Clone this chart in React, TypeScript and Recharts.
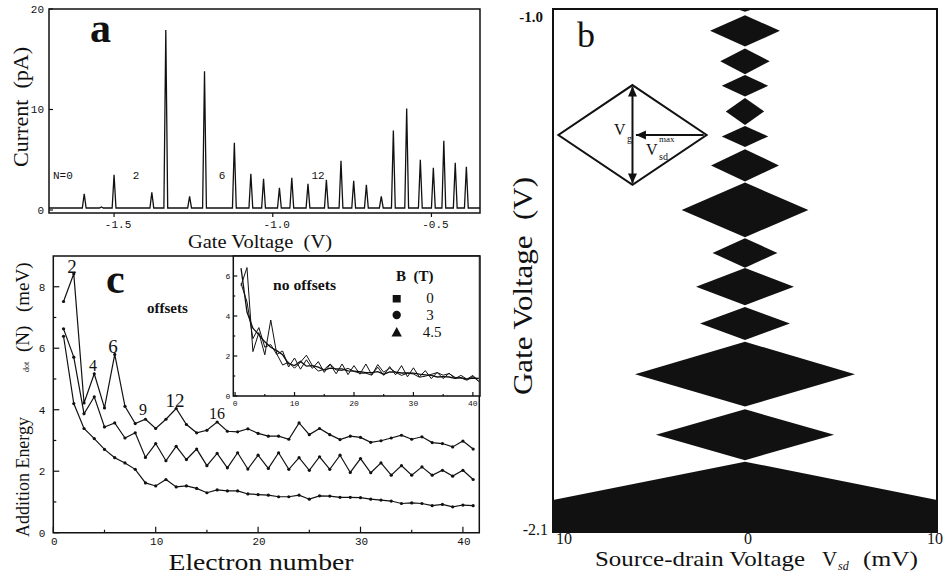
import React from 'react';
import { LineChart, Line, XAxis, YAxis, ReferenceArea, ReferenceLine } from 'recharts';

const SERIF = '"Liberation Serif", "Times New Roman", serif';
const MONO = '"Liberation Mono", "DejaVu Sans Mono", monospace';
const INK = '#111';
const FW = 951;
const FH = 580;

// ---------------- panel a : current vs gate voltage ----------------
const GATE_RANGE_A = [-1.705, -0.347];
const CURRENT_RANGE_A = [-0.3, 20];
const PEAK_GATE = [-1.594, -1.54, -1.5, -1.381, -1.337, -1.262, -1.215, -1.121, -1.069, -1.029, -0.979, -0.94, -0.889, -0.831, -0.785, -0.745, -0.705, -0.658, -0.62, -0.578, -0.535, -0.494, -0.461, -0.425, -0.39];
const PEAK_CURRENT = [1.6, 0.3, 3.5, 1.75, 17.9, 1.35, 13.8, 6.7, 3.6, 3.1, 2.2, 3.2, 2.6, 3.0, 4.9, 2.9, 2.5, 1.35, 7.9, 10.1, 5.0, 4.2, 6.9, 4.7, 4.3];
const BASELINE_CURRENT = 0.2;
const A_X_TICKS = [-1.5, -1.0, -0.5];
const A_Y_TICKS = [0, 10, 20];

// ---------------- panel b : Coulomb diamonds ----------------
const VSD_RANGE = [-10, 10];
const VG_RANGE = [-2.1, -1.0];
const DIAMOND_TOP = [-0.97, -1.013, -1.083, -1.139, -1.187, -1.246, -1.295, -1.365, -1.482, -1.545, -1.627, -1.7, -1.842, -1.952];
const DIAMOND_BOTTOM = [-1.006, -1.079, -1.137, -1.184, -1.244, -1.29, -1.363, -1.48, -1.544, -1.623, -1.696, -1.836, -1.949, -2.6];
const DIAMOND_HALF_WIDTH = [1.3, 1.82, 1.29, 1.21, 1.0, 1.21, 1.77, 3.3, 1.69, 2.55, 2.34, 5.73, 4.64, 40.2];
const B_X_TICKS = [-10, 0, 10];
const B_Y_TICKS = [-2.1, -1.0];
// schematic diamond (inset of panel b), in axis units
const SCHEMATIC = { vsd: -5.86, half: 3.86, top: -1.16, bottom: -1.37, mid: -1.265 };

// ---------------- panel c : addition energy ----------------
const ELECTRON_N = [1, 2, 3, 4, 5, 6, 7, 8, 9, 10, 11, 12, 13, 14, 15, 16, 17, 18, 19, 20, 21, 22, 23, 24, 25, 26, 27, 28, 29, 30, 31, 32, 33, 34, 35, 36, 37, 38, 39, 40, 41];
const E_B0 = [5.52, 6.42, 2.22, 3.17, 2.06, 3.8, 2.11, 1.55, 1.69, 1.39, 1.69, 2.04, 1.52, 1.25, 1.33, 1.6, 1.3, 1.28, 1.38, 1.23, 1.14, 1.14, 1.04, 1.57, 1.19, 1.39, 1.19, 1.03, 1.14, 1.1, 0.94, 0.99, 1.08, 1.17, 1.04, 1.12, 0.93, 0.9, 0.79, 0.98, 0.72];
const E_B3 = [5.63, 4.71, 2.87, 3.42, 2.44, 2.57, 2.08, 2.25, 1.45, 1.9, 1.34, 1.81, 1.38, 1.72, 1.18, 1.58, 1.11, 1.6, 1.07, 1.52, 1.09, 1.6, 1.06, 1.44, 1.03, 1.47, 1.06, 1.52, 0.96, 1.41, 0.95, 1.27, 0.87, 1.18, 0.87, 1.14, 0.87, 1.03, 0.84, 1.03, 0.73];
const E_B45 = [6.39, 4.2, 3.39, 3.06, 2.71, 2.44, 2.27, 2.06, 1.62, 1.52, 1.73, 1.49, 1.52, 1.44, 1.3, 1.39, 1.36, 1.36, 1.26, 1.24, 1.22, 1.17, 1.17, 1.22, 1.09, 1.2, 1.19, 1.15, 1.15, 1.14, 1.09, 1.06, 1.03, 0.95, 0.97, 0.95, 0.88, 0.92, 0.84, 0.9, 0.88];
const B_FIELDS = ['0', '3', '4.5'];
const OFFSETS_MEV = [2, 1, 0];
const C_X_RANGE = [0, 41.6];
const C_Y_RANGE = [0, 9];
const C_X_TICKS = [0, 5, 10, 15, 20, 25, 30, 35, 40];
const C_Y_TICKS = [0, 1, 2, 3, 4, 5, 6, 7, 8];
const INSET_X_RANGE = [-0.3, 41.2];
const INSET_Y_RANGE = [0, 7];
const INSET_X_TICKS = [0, 5, 10, 15, 20, 25, 30, 35, 40];
const INSET_Y_TICKS = [0, 1, 2, 3, 4, 5, 6];
const PEAK_LABELS_C = ['2', '4', '6', '9', '12', '16'];

// ---------- derived tables ----------
const PEAK_HALF_WIDTH = 0.006;
const traceA: { v: number; i: number }[] = [{ v: GATE_RANGE_A[0], i: BASELINE_CURRENT }];
PEAK_GATE.forEach((v, k) => {
  traceA.push({ v: v - PEAK_HALF_WIDTH, i: BASELINE_CURRENT }, { v, i: PEAK_CURRENT[k] }, { v: v + PEAK_HALF_WIDTH, i: BASELINE_CURRENT });
});
traceA.push({ v: GATE_RANGE_A[1], i: BASELINE_CURRENT });

const offsetRows = ELECTRON_N.map((n, k) => ({
  n,
  b0: E_B0[k] + OFFSETS_MEV[0],
  b3: E_B3[k] + OFFSETS_MEV[1],
  b45: E_B45[k] + OFFSETS_MEV[2],
}));
const rawRows = ELECTRON_N.map((n, k) => ({ n, b0: E_B0[k], b3: E_B3[k], b45: E_B45[k] }));

const diamonds = DIAMOND_TOP.map((top, k) => ({ top, bottom: DIAMOND_BOTTOM[k], half: DIAMOND_HALF_WIDTH[k] }));

// ---------- tick renderers ----------
type TickOpt = {
  fmt: (v: number) => string;
  isMajor: (v: number) => boolean;
  major: number;
  minor: number;
  dir: number;
  font: string;
  size: number;
  dx: number;
  dy: number;
  weight?: string;
};

const xTick = (o: TickOpt) => (p: any) => {
  const v = p.payload.value;
  const maj = o.isMajor(v);
  const len = maj ? o.major : o.minor;
  return (
    <g>
      {len > 0 && <line x1={p.x} x2={p.x} y1={p.y} y2={p.y + o.dir * len} stroke={INK} strokeWidth={1.2} />}
      {maj && (
        <text x={p.x + o.dx} y={p.y + o.dy} textAnchor="middle" fontFamily={o.font} fontSize={o.size} fontWeight={o.weight || 'normal'} fill={INK}>
          {o.fmt(v)}
        </text>
      )}
    </g>
  );
};

const yTick = (o: TickOpt) => (p: any) => {
  const v = p.payload.value;
  const maj = o.isMajor(v);
  const len = maj ? o.major : o.minor;
  return (
    <g>
      {len > 0 && <line x1={p.x} x2={p.x + o.dir * len} y1={p.y} y2={p.y} stroke={INK} strokeWidth={1.2} />}
      {maj && (
        <text x={p.x + o.dx} y={p.y + o.dy} textAnchor="end" fontFamily={o.font} fontSize={o.size} fontWeight={o.weight || 'normal'} fill={INK}>
          {o.fmt(v)}
        </text>
      )}
    </g>
  );
};

const DiamondShape = (p: any) => {
  const { x, y, width, height } = p;
  const cx = x + width / 2;
  const cy = y + height / 2;
  return (
    <polygon
      points={`${cx},${y} ${x + width},${cy} ${cx},${y + height} ${x},${cy}`}
      fill={p.fill}
      stroke={p.stroke}
      strokeWidth={p.strokeWidth}
      strokeLinejoin="miter"
      clipPath={p.clipPath}
    />
  );
};

const arrowShape = (both: boolean) => (p: any) => {
  const { x1, y1, x2, y2 } = p;
  const a = Math.atan2(y2 - y1, x2 - x1);
  const head = (tx: number, ty: number, ang: number) => {
    const L = 10;
    const w = 4.5;
    const bx = tx - L * Math.cos(ang);
    const by = ty - L * Math.sin(ang);
    const nx = -Math.sin(ang) * w;
    const ny = Math.cos(ang) * w;
    return <polygon points={`${tx},${ty} ${bx + nx},${by + ny} ${bx - nx},${by - ny}`} fill={INK} />;
  };
  return (
    <g>
      <line x1={x1} y1={y1} x2={x2} y2={y2} stroke={INK} strokeWidth={2} />
      {head(x2, y2, a)}
      {both && head(x1, y1, a + Math.PI)}
    </g>
  );
};

const axisCommon = {
  interval: 0 as const,
  tickSize: 0,
  tickMargin: 0,
  tickLine: false,
  axisLine: false,
  allowDataOverflow: true,
};

const layer: React.CSSProperties = { position: 'absolute', left: 0, top: 0 };

function PanelA() {
  return (
    <LineChart width={FW} height={FH} data={traceA} margin={{ top: 9, left: 48, right: 471, bottom: 366 }}>
      <XAxis
        dataKey="v"
        type="number"
        domain={GATE_RANGE_A}
        ticks={A_X_TICKS}
        height={1}
        {...axisCommon}
        tick={xTick({ fmt: (v) => v.toFixed(1), isMajor: () => true, major: 4, minor: 0, dir: 1, font: MONO, size: 11, dx: 4, dy: 14.5 })}
      />
      <YAxis
        type="number"
        domain={CURRENT_RANGE_A}
        ticks={A_Y_TICKS}
        width={1}
        {...axisCommon}
        tick={yTick({ fmt: (v) => String(v), isMajor: () => true, major: 4, minor: 0, dir: 1, font: MONO, size: 11, dx: -5, dy: 4 })}
      />
      <ReferenceArea x1={GATE_RANGE_A[0]} x2={GATE_RANGE_A[1]} y1={CURRENT_RANGE_A[0]} y2={CURRENT_RANGE_A[1]} fill="none" stroke={INK} strokeWidth={1.5} ifOverflow="visible" />
      <Line dataKey="i" type="linear" stroke={INK} strokeWidth={1.3} dot={false} isAnimationActive={false} />
    </LineChart>
  );
}

function PanelB() {
  return (
    <LineChart width={FW} height={FH} data={[]} margin={{ top: 9, left: 552, right: 14, bottom: 47 }}>
      <XAxis
        dataKey="vsd"
        type="number"
        domain={VSD_RANGE}
        ticks={B_X_TICKS}
        height={1}
        {...axisCommon}
        tick={(p: any) => {
          const v = p.payload.value;
          const dx = v < 0 ? 11 : v > 0 ? -2 : 3;
          return (
            <text x={p.x + dx} y={p.y + 12} textAnchor="middle" fontFamily={SERIF} fontSize={16} fill={INK}>
              {String(Math.abs(v))}
            </text>
          );
        }}
      />
      <YAxis
        type="number"
        domain={VG_RANGE}
        ticks={B_Y_TICKS}
        width={1}
        {...axisCommon}
        tick={(p: any) => {
          const v = p.payload.value;
          const top = v > -1.5;
          return (
            <text x={p.x + (top ? -10 : -5)} y={p.y + (top ? 13 : 3)} textAnchor="end" fontFamily={SERIF} fontSize={top ? 15 : 16} fontWeight={top ? 'bold' : 'normal'} fill={INK}>
              {v.toFixed(1)}
            </text>
          );
        }}
      />
      {diamonds.map((d, k) => (
        <ReferenceArea key={k} x1={-d.half} x2={d.half} y1={d.bottom} y2={d.top} fill={INK} stroke="none" shape={DiamondShape} ifOverflow="hidden" />
      ))}
      <ReferenceArea
        x1={SCHEMATIC.vsd - SCHEMATIC.half}
        x2={SCHEMATIC.vsd + SCHEMATIC.half}
        y1={SCHEMATIC.bottom}
        y2={SCHEMATIC.top}
        fill="none"
        stroke={INK}
        strokeWidth={2}
        shape={DiamondShape}
        ifOverflow="visible"
      />
      <ReferenceLine
        segment={[{ x: SCHEMATIC.vsd, y: SCHEMATIC.top - 0.003 }, { x: SCHEMATIC.vsd, y: SCHEMATIC.bottom + 0.003 }]}
        shape={arrowShape(true)}
        ifOverflow="visible"
      />
      <ReferenceLine
        segment={[{ x: SCHEMATIC.vsd + SCHEMATIC.half - 0.15, y: SCHEMATIC.mid }, { x: SCHEMATIC.vsd + 0.18, y: SCHEMATIC.mid }]}
        shape={arrowShape(false)}
        ifOverflow="visible"
      />
      <ReferenceArea x1={VSD_RANGE[0]} x2={VSD_RANGE[1]} y1={VG_RANGE[0]} y2={VG_RANGE[1]} fill="none" stroke={INK} strokeWidth={2} ifOverflow="visible" />
    </LineChart>
  );
}

function PanelC() {
  const dot = { r: 1.6, fill: INK, stroke: INK, strokeWidth: 0 };
  return (
    <LineChart width={FW} height={FH} data={offsetRows} margin={{ top: 256, left: 52.3, right: 471.7, bottom: 46.3 }}>
      <XAxis
        dataKey="n"
        type="number"
        domain={C_X_RANGE}
        ticks={C_X_TICKS}
        height={1}
        {...axisCommon}
        tick={xTick({ fmt: (v) => String(v), isMajor: (v) => v % 10 === 0, major: 6, minor: 3, dir: -1, font: MONO, size: 11, dx: 1, dy: 12.5 })}
      />
      <YAxis
        type="number"
        domain={C_Y_RANGE}
        ticks={C_Y_TICKS}
        width={1}
        {...axisCommon}
        tick={yTick({ fmt: (v) => String(v), isMajor: (v) => v % 2 === 0, major: 6, minor: 3, dir: 1, font: MONO, size: 11, dx: -8, dy: 4 })}
      />
      <ReferenceArea x1={C_X_RANGE[0]} x2={C_X_RANGE[1]} y1={C_Y_RANGE[0]} y2={C_Y_RANGE[1]} fill="none" stroke={INK} strokeWidth={1.5} ifOverflow="visible" />
      <Line dataKey="b0" name={B_FIELDS[0]} type="linear" stroke={INK} strokeWidth={1.2} dot={dot} isAnimationActive={false} />
      <Line dataKey="b3" name={B_FIELDS[1]} type="linear" stroke={INK} strokeWidth={1.2} dot={dot} isAnimationActive={false} />
      <Line dataKey="b45" name={B_FIELDS[2]} type="linear" stroke={INK} strokeWidth={1.2} dot={dot} isAnimationActive={false} />
    </LineChart>
  );
}

function InsetC() {
  return (
    <LineChart width={FW} height={FH} data={rawRows} margin={{ top: 256, left: 232.3, right: 471, bottom: 183 }}>
      <XAxis
        dataKey="n"
        type="number"
        domain={INSET_X_RANGE}
        ticks={INSET_X_TICKS}
        height={1}
        {...axisCommon}
        tick={xTick({ fmt: (v) => String(v), isMajor: (v) => v % 10 === 0, major: 4, minor: 2, dir: -1, font: MONO, size: 8, dx: 0, dy: 10 })}
      />
      <YAxis
        type="number"
        domain={INSET_Y_RANGE}
        ticks={INSET_Y_TICKS}
        width={1}
        {...axisCommon}
        tick={yTick({ fmt: (v) => String(v), isMajor: (v) => v % 2 === 0, major: 4, minor: 2, dir: 1, font: MONO, size: 8, dx: -3, dy: 3 })}
      />
      <ReferenceArea x1={INSET_X_RANGE[0]} x2={INSET_X_RANGE[1]} y1={INSET_Y_RANGE[0]} y2={INSET_Y_RANGE[1]} fill="#fff" stroke={INK} strokeWidth={1.5} ifOverflow="visible" />
      <Line dataKey="b0" name={B_FIELDS[0]} type="linear" stroke={INK} strokeWidth={1} dot={false} isAnimationActive={false} />
      <Line dataKey="b3" name={B_FIELDS[1]} type="linear" stroke={INK} strokeWidth={1} dot={false} isAnimationActive={false} />
      <Line dataKey="b45" name={B_FIELDS[2]} type="linear" stroke={INK} strokeWidth={1.3} dot={false} isAnimationActive={false} />
    </LineChart>
  );
}

function Overlay() {
  const pre: React.CSSProperties = { whiteSpace: 'pre' };
  const peakLabelPos = [
    { x: 72, y: 273, s: 19 },
    { x: 93, y: 371, s: 16 },
    { x: 113, y: 353, s: 19 },
    { x: 143, y: 415, s: 16 },
    { x: 175, y: 407, s: 19 },
    { x: 217, y: 419, s: 16 },
  ];
  return (
    <svg width={FW} height={FH} style={{ ...layer, pointerEvents: 'none' }}>
      {/* panel a */}
      <text x={90} y={42} fontFamily={SERIF} fontSize={42} fontWeight="bold" fill={INK}>a</text>
      <text transform="translate(28,107) rotate(-90)" textAnchor="middle" fontFamily={SERIF} fontSize={21} fill={INK} style={pre} textLength={120} lengthAdjust="spacingAndGlyphs">Current  (pA)</text>
      <text x={260} y={247.5} textAnchor="middle" fontFamily={SERIF} fontSize={19} fill={INK} style={pre} textLength={144} lengthAdjust="spacingAndGlyphs">Gate Voltage  (V)</text>
      <text x={53} y={179} fontFamily={MONO} fontSize={11} fill={INK}>N=0</text>
      <text x={136} y={179} textAnchor="middle" fontFamily={MONO} fontSize={11} fill={INK}>2</text>
      <text x={222} y={179} textAnchor="middle" fontFamily={MONO} fontSize={11} fill={INK}>6</text>
      <text x={318} y={179} textAnchor="middle" fontFamily={MONO} fontSize={11} fill={INK}>12</text>

      {/* panel b */}
      <text x={577} y={47} fontFamily={SERIF} fontSize={36} fill={INK}>b</text>
      <text transform="translate(532,286) rotate(-90)" textAnchor="middle" fontFamily={SERIF} fontSize={28} fill={INK} style={pre} textLength={218} lengthAdjust="spacingAndGlyphs">Gate Voltage  (V)</text>
      <text x={595} y={566} fontFamily={SERIF} fontSize={21} fill={INK} textLength={210} lengthAdjust="spacingAndGlyphs">Source-drain Voltage</text>
      <text x={822} y={566} fontFamily={SERIF} fontSize={21} fill={INK}>V</text>
      <text x={838} y={570} fontFamily={SERIF} fontSize={12} fontStyle="italic" fill={INK}>sd</text>
      <text x={863} y={566} fontFamily={SERIF} fontSize={21} fill={INK} textLength={55} lengthAdjust="spacingAndGlyphs">(mV)</text>
      <text x={614} y={135} fontFamily={SERIF} fontSize={16} fill={INK}>V</text>
      <text x={627} y={142} fontFamily={SERIF} fontSize={10} fill={INK}>g</text>
      <text x={646} y={155} fontFamily={SERIF} fontSize={16} fill={INK}>V</text>
      <text x={659} y={142} fontFamily={SERIF} fontSize={9} fill={INK}>max</text>
      <text x={659} y={160} fontFamily={SERIF} fontSize={10} fill={INK}>sd</text>

      {/* panel c */}
      <text x={106} y={293} fontFamily={SERIF} fontSize={42} fontWeight="bold" fill={INK}>c</text>
      <text x={147} y={313} fontFamily={SERIF} fontSize={15} fontWeight="bold" fill={INK}>offsets</text>
      {PEAK_LABELS_C.map((t, k) => (
        <text key={t} x={peakLabelPos[k].x} y={peakLabelPos[k].y} textAnchor="middle" fontFamily={SERIF} fontSize={peakLabelPos[k].s} fill={INK}>{t}</text>
      ))}
      <text transform="translate(29,537) rotate(-90)" fontFamily={SERIF} fontSize={19} fill={INK} style={pre}>
        <tspan x={0} textLength={120} lengthAdjust="spacingAndGlyphs">Addition Energy</tspan>
        <tspan x={165} fontSize={8}>dot</tspan>
        <tspan x={185}>(N)</tspan>
        <tspan x={225}>(meV)</tspan>
      </text>
      <text x={261} y={570} textAnchor="middle" fontFamily={SERIF} fontSize={24} fill={INK} textLength={185} lengthAdjust="spacingAndGlyphs">Electron number</text>

      {/* inset of c */}
      <text x={273} y={290} fontFamily={SERIF} fontSize={15} fontWeight="bold" fill={INK} textLength={63} lengthAdjust="spacingAndGlyphs">no offsets</text>
      <text x={396} y={281} fontFamily={SERIF} fontSize={15} fontWeight="bold" fill={INK} style={pre}>B  (T)</text>
      <rect x={392.7} y={295} width={8} height={7.5} fill={INK} />
      <circle cx={396.7} cy={315} r={4.2} fill={INK} />
      <polygon points="396.7,327 401.9,336.5 391.5,336.5" fill={INK} />
      <text x={430} y={302.5} textAnchor="middle" fontFamily={SERIF} fontSize={15} fill={INK}>{B_FIELDS[0]}</text>
      <text x={430} y={320} textAnchor="middle" fontFamily={SERIF} fontSize={15} fill={INK}>{B_FIELDS[1]}</text>
      <text x={432} y={336.5} textAnchor="middle" fontFamily={SERIF} fontSize={15} fill={INK}>{B_FIELDS[2]}</text>
    </svg>
  );
}

export default function App() {
  return (
    <div style={{ position: 'absolute', left: 0, top: 0, width: FW, height: FH, background: '#fff', overflow: 'hidden' }}>
      <div style={layer}><PanelA /></div>
      <div style={layer}><PanelB /></div>
      <div style={layer}><PanelC /></div>
      <div style={layer}><InsetC /></div>
      <Overlay />
    </div>
  );
}
